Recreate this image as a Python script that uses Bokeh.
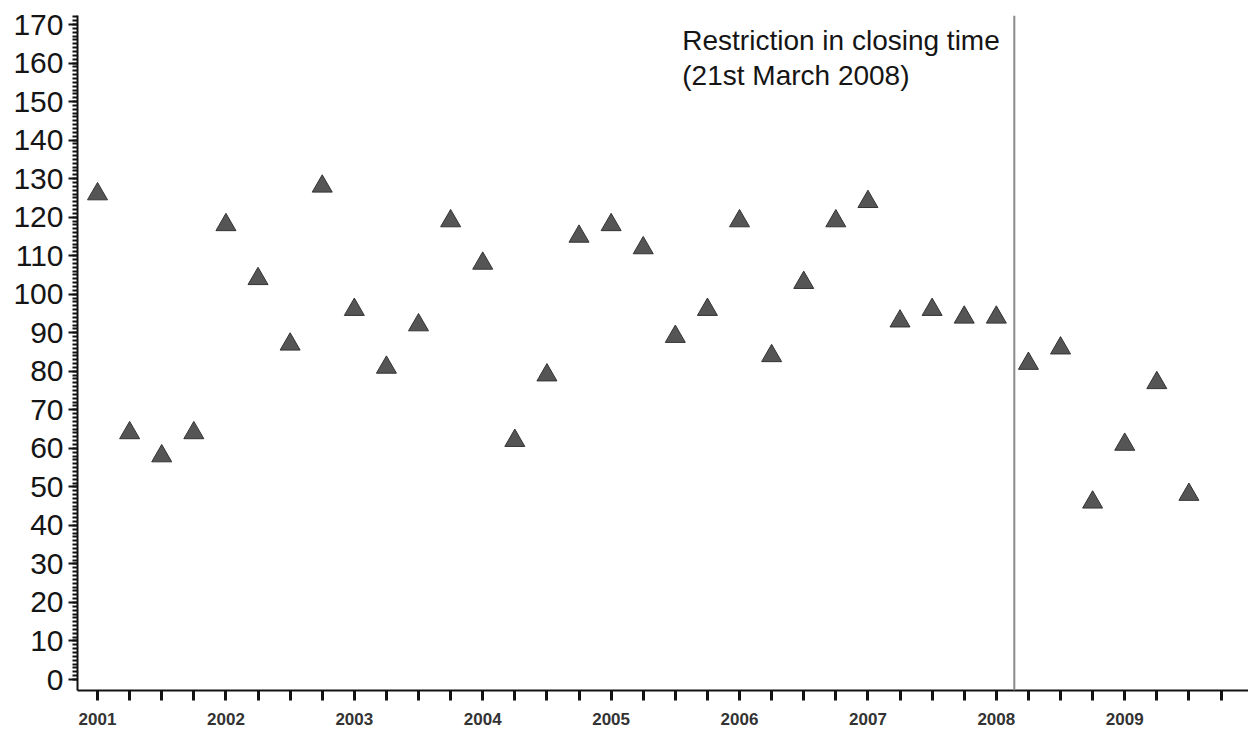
from bokeh.plotting import figure
from bokeh.models import Range1d, FixedTicker, Span, Label
from bokeh.embed import file_html
from bokeh.resources import INLINE

# ---- data (quarterly counts, 2001 Q1 .. 2009 Q3) ----
years = [2001, 2002, 2003, 2004, 2005, 2006, 2007, 2008, 2009]
quarters = [f"{y}-Q{q}" for y in years for q in (1, 2, 3, 4)
            if not (y == 2009 and q == 4)]
counts = [126, 64, 58, 64,
          118, 104, 87, 128,
          96, 81, 92, 119,
          108, 62, 79, 115,
          118, 112, 89, 96,
          119, 84, 103, 119,
          124, 93, 96, 94,
          94, 82, 86, 46,
          61, 77, 48]
restriction_x = 2008.14          # 21st March 2008 marker position on the axis
annotation_lines = ["Restriction in closing time", "(21st March 2008)"]
y_ticks = list(range(0, 171, 10))
y_minor = list(range(0, 173, 1))


def q_to_x(s):
    y, q = s.split("-Q")
    return int(y) + (int(q) - 1) / 4.0


xs = [q_to_x(s) for s in quarters]
ys = counts

p = figure(width=1248, height=729, output_backend="svg", toolbar_location=None,
           x_range=Range1d(2000.844, 2009.964), y_range=Range1d(-2.85, 172.34),
           min_border_left=77, min_border_right=0, min_border_top=15, min_border_bottom=39)
p.outline_line_color = None
p.xgrid.grid_line_color = None
p.ygrid.grid_line_color = None
p.background_fill_color = "white"
p.border_fill_color = "white"

p.scatter(xs, ys, marker="triangle", size=20, fill_color="#555555",
          line_color="#333333", line_width=1)

p.add_layout(Span(location=restriction_x, dimension="height",
                  line_color="#8a8a8a", line_width=2))

for text, yv in zip(annotation_lines, [165.8, 156.8]):
    p.add_layout(Label(x=restriction_x, y=yv, x_offset=-332, text=text,
                       text_font="Liberation Sans", text_font_size="28px",
                       text_baseline="middle", text_color="#151515"))

# y axis
ya = p.yaxis[0]
ya.ticker = FixedTicker(ticks=y_ticks, minor_ticks=y_minor)
ya.axis_line_width = 2
ya.axis_line_color = "#111111"
ya.major_tick_in = 0
ya.major_tick_out = 9
ya.minor_tick_in = 0
ya.minor_tick_out = 5
ya.major_tick_line_width = 2
ya.minor_tick_line_width = 2
ya.major_tick_line_color = "#111111"
ya.minor_tick_line_color = "#111111"
ya.major_label_text_font = "Liberation Sans"
ya.major_label_text_font_size = "30px"
ya.major_label_text_color = "#151515"
ya.major_label_standoff = 5

# x axis
xa = p.xaxis[0]
quarter_ticks = [y + k / 4.0 for y in years for k in range(4)]
xa.ticker = FixedTicker(ticks=quarter_ticks, minor_ticks=[])
xa.major_label_overrides = {t: (str(int(t)) if t == int(t) else "") for t in quarter_ticks}
xa.axis_line_width = 2
xa.axis_line_color = "#111111"
xa.major_tick_in = 0
xa.major_tick_out = 10
xa.major_tick_line_width = 3
xa.major_tick_line_color = "#111111"
xa.major_label_text_font = "Liberation Sans"
xa.major_label_text_font_size = "17px"
xa.major_label_text_font_style = "bold"
xa.major_label_text_color = "#333333"
xa.major_label_standoff = 12

open("out.html", "w").write(file_html(p, INLINE))
